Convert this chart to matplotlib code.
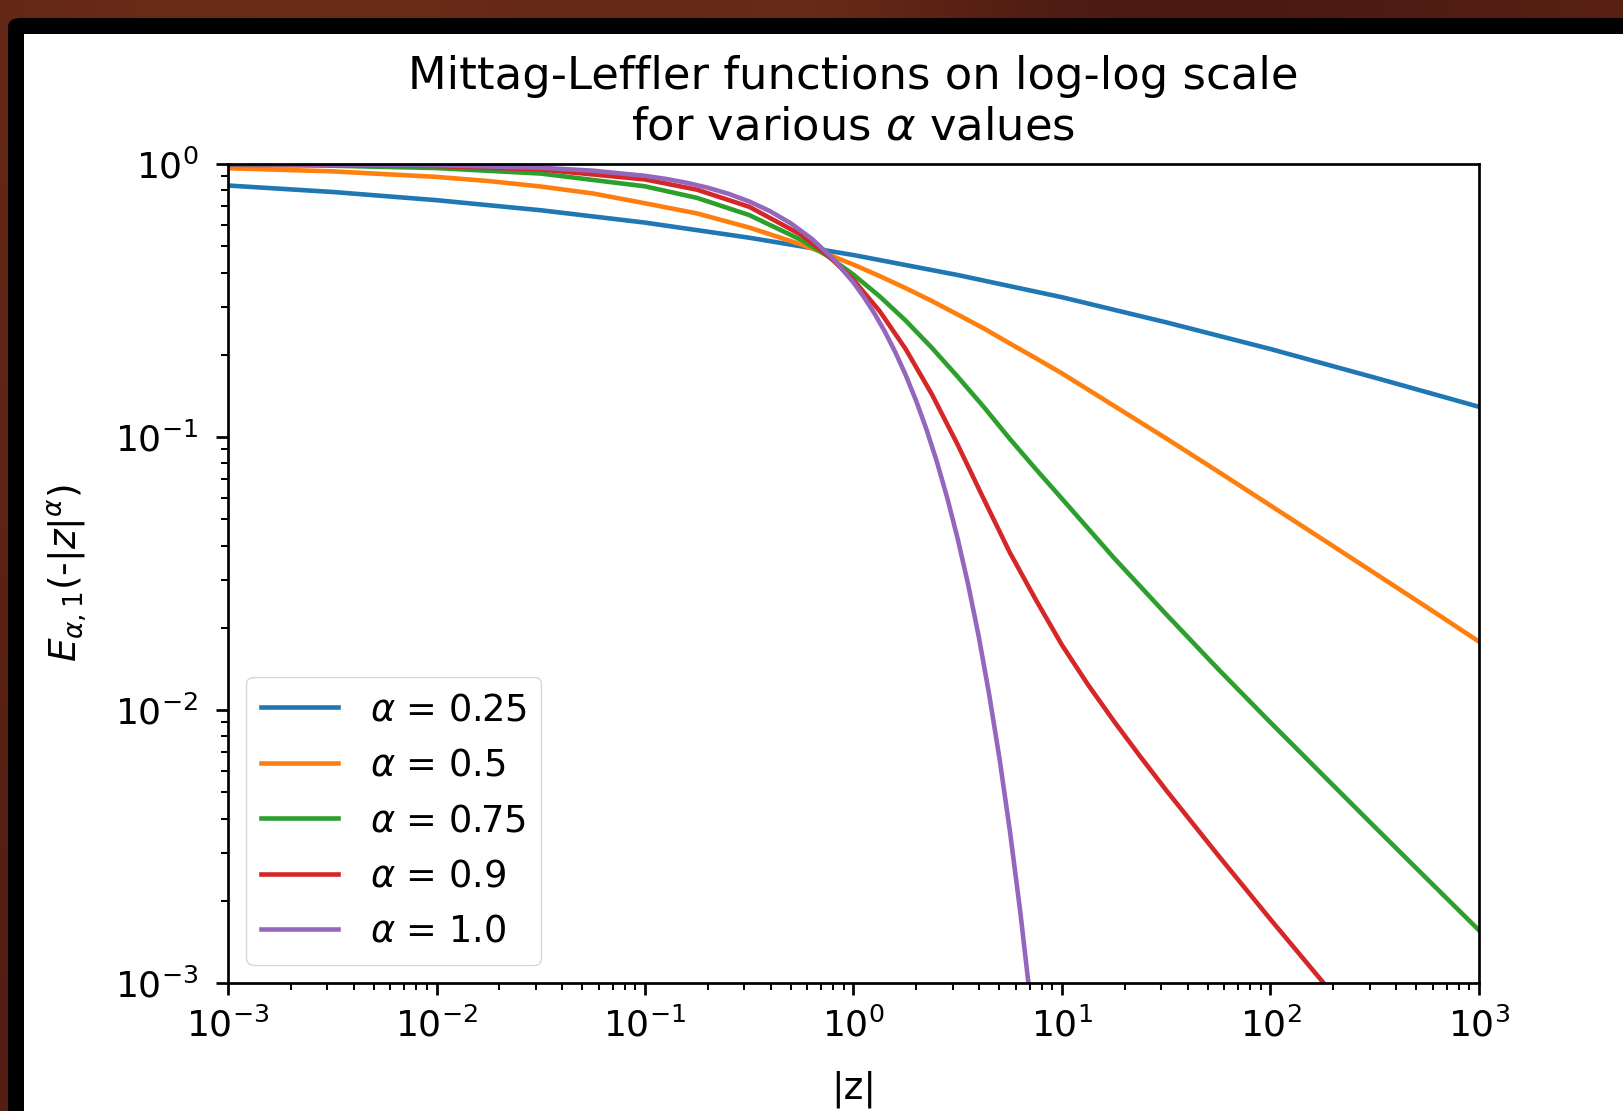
import numpy as np
import matplotlib
matplotlib.use("Agg")
import matplotlib.pyplot as plt
from matplotlib.patches import FancyBboxPatch, Rectangle

# ---------------- data ----------------
labels = [r"$\alpha$ = 0.25", r"$\alpha$ = 0.5", r"$\alpha$ = 0.75",
          r"$\alpha$ = 0.9", r"$\alpha$ = 1.0"]
colors = ["#1f77b4", "#ff7f0e", "#2ca02c", "#d62728", "#9467bd"]

# log10(|z|) sample positions and E values for each curve
lz_a025 = [-3, -2.5, -2, -1.5, -1, -0.5, 0, 0.5, 1, 1.5, 2, 2.5, 3]
E_a025 = [0.834, 0.790, 0.737, 0.677, 0.610, 0.537, 0.464, 0.392, 0.325,
          0.263, 0.210, 0.165, 0.129]

lz_a050 = [-3, -2.5, -2, -1.75, -1.5, -1.25, -1, -0.75, -0.5, -0.25, -0.125,
           0, 0.125, 0.25, 0.375, 0.5, 0.625, 0.75, 0.875, 1, 1.25, 1.5,
           1.75, 2, 2.25, 2.5, 2.75, 3]
E_a050 = [0.965, 0.940, 0.897, 0.866, 0.827, 0.780, 0.718, 0.659, 0.585,
          0.507, 0.4672, 0.428, 0.3887, 0.351, 0.3152, 0.2808, 0.2499,
          0.220, 0.1943, 0.171, 0.130, 0.0988, 0.0746, 0.0561, 0.0422,
          0.0317, 0.0238, 0.0178]

lz_a075 = [-3, -2.5, -2, -1.5, -1, -0.75, -0.5, -0.25, -0.125, 0, 0.125,
           0.25, 0.375, 0.5, 0.625, 0.75, 0.875, 1, 1.25, 1.5, 1.75, 2,
           2.25, 2.5, 2.75, 3]
E_a075 = [0.9939, 0.9856, 0.9663, 0.9225, 0.8283, 0.7512, 0.650, 0.527,
          0.4604, 0.3932, 0.3277, 0.267, 0.2125, 0.1662, 0.1288, 0.0984,
          0.0762, 0.0594, 0.0360, 0.0224, 0.0141, 0.0090, 0.00579, 0.00373,
          0.00241, 0.00156]

lz_a090 = [-3, -2.5, -2, -1.5, -1, -0.75, -0.5, -0.25, -0.125, 0, 0.125,
           0.25, 0.375, 0.5, 0.625, 0.75, 0.875, 1, 1.125, 1.25, 1.375,
           1.5, 1.75, 2, 2.25, 2.5]
E_a090 = [0.998, 0.9942, 0.9837, 0.9547, 0.878, 0.805, 0.697, 0.550,
          0.4647, 0.376, 0.2894, 0.2101, 0.1438, 0.0936, 0.0592, 0.0377,
          0.0253, 0.01729, 0.01237, 0.00908, 0.00676, 0.00508, 0.00293,
          0.00171, 0.00101, 0.000597]

lz_a100 = [-3, -2, -1.5, -1.25, -1, -0.9, -0.8, -0.7, -0.6, -0.5, -0.4,
           -0.3, -0.2, -0.1, 0, 0.05, 0.1, 0.15, 0.2, 0.25, 0.3, 0.35, 0.4,
           0.45, 0.5, 0.55, 0.6, 0.65, 0.7, 0.75, 0.8, 0.85]
E_a100 = [0.999, 0.990, 0.969, 0.9453, 0.905, 0.8817, 0.8534, 0.8191,
          0.7779, 0.7289, 0.6716, 0.6058, 0.5321, 0.4519, 0.3679, 0.3256,
          0.2840, 0.2435, 0.2049, 0.1689, 0.1360, 0.1066, 0.0811, 0.0597,
          0.0423, 0.0288, 0.0187, 0.01148, 0.00666, 0.00361, 0.00182,
          0.000842]

series_lz = [lz_a025, lz_a050, lz_a075, lz_a090, lz_a100]
series_E = [E_a025, E_a050, E_a075, E_a090, E_a100]

title_text = "Mittag-Leffler functions on log-log scale\nfor various $\\alpha$ values"
xlabel_text = "|z|"
ylabel_text = r"$E_{\alpha,1}$(-$|z|^{\alpha}$)"

# ---------------- figure ----------------
W, H = 1624, 1111
fig = plt.figure(figsize=(W / 100, H / 100), dpi=100)

# dark reddish slide background
bg = fig.add_axes([0, 0, 1, 1], zorder=-10)
bg.axis("off")
gx = np.linspace(0, 1, 400)
gy = np.linspace(0, 1, 300)
GX, GY = np.meshgrid(gx, gy)
c1 = np.array([0.42, 0.17, 0.09])
c2 = np.array([0.30, 0.10, 0.07])
c3 = np.array([0.48, 0.22, 0.10])
t = 0.5 + 0.5 * np.sin(GX * 5.5 + 0.6) * np.cos(GY * 3.0)
img = c2[None, None, :] * (1 - t[..., None]) + c1[None, None, :] * t[..., None]
hl = np.exp(-((GX - 0.5) ** 2) / 0.01)[..., None]
img = img * (1 - 0.4 * hl) + c3[None, None, :] * 0.4 * hl
bg.imshow(img, extent=[0, 1, 0, 1], aspect="auto", origin="upper")
bg.set_xlim(0, 1)
bg.set_ylim(0, 1)

# black frame and white panel
frame = FancyBboxPatch((8 / W, -0.1), 1.2, 1 - 18 / H + 0.1,
                       boxstyle="round,pad=0,rounding_size=0.008",
                       transform=fig.transFigure, facecolor="black",
                       edgecolor="none", zorder=-5)
fig.patches.append(frame)
panel = Rectangle((24 / W, -0.1), 1.2, 1 - 34 / H + 0.1,
                  transform=fig.transFigure, facecolor="white",
                  edgecolor="none", zorder=-4)
fig.patches.append(panel)

s = 2.45
plt.rcParams.update({
    "font.size": 26,
    "axes.linewidth": 0.8 * s,
    "xtick.major.size": 3.5 * s, "ytick.major.size": 3.5 * s,
    "xtick.minor.size": 2.0 * s, "ytick.minor.size": 2.0 * s,
    "xtick.major.width": 0.8 * s, "ytick.major.width": 0.8 * s,
    "xtick.minor.width": 0.6 * s, "ytick.minor.width": 0.6 * s,
    "xtick.major.pad": 3.5 * s, "ytick.major.pad": 3.5 * s + 4,
    "xtick.labelsize": 26, "ytick.labelsize": 26,
})

ax = fig.add_axes([228 / W, 1 - 983 / H, (1479 - 228) / W, (983 - 164) / H])
ax.set_facecolor("white")

for lz, E, lab, col in zip(series_lz, series_E, labels, colors):
    z = 10.0 ** np.array(lz)
    ax.plot(z, E, color=col, lw=3.3, label=lab)

ax.set_xscale("log")
ax.set_yscale("log")
ax.set_xlim(1e-3, 1e3)
ax.set_ylim(1e-3, 1e0)
ax.set_title(title_text, fontsize=32.3, pad=18)
ax.set_xlabel(xlabel_text, fontsize=27, labelpad=20)
ax.set_ylabel(ylabel_text, fontsize=27, labelpad=19)
ax.legend(loc="lower left", fontsize=26.5, handlelength=2.1,
          handletextpad=0.85, labelspacing=0.5)

fig.savefig("out.png", dpi=100)
